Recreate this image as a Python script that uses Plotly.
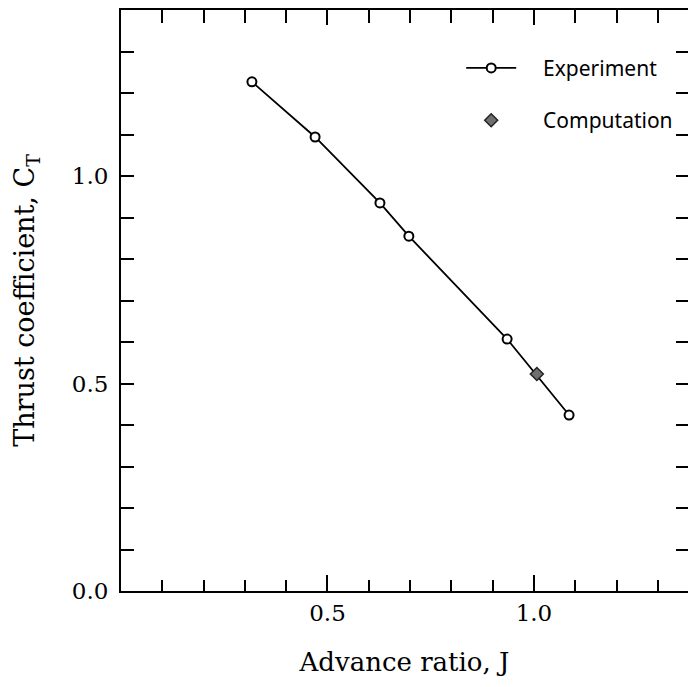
import plotly.graph_objects as go

# Data
exp_J = [0.317, 0.470, 0.627, 0.697, 0.935, 1.085]
exp_CT = [1.227, 1.094, 0.935, 0.855, 0.607, 0.424]
comp_J = [1.007]
comp_CT = [0.523]

x_ticks = [0.5, 1.0]
x_ticklabels = ["0.5", "1.0"]
y_ticks = [0.0, 0.5, 1.0]
y_ticklabels = ["0.0", "0.5", "1.0"]

serif = "DejaVu Serif"
sans = "Noto Sans"
pad = "\u00a0\u00a0\u00a0\u00a0"

fig = go.Figure()
fig.add_trace(go.Scatter(
    x=exp_J, y=exp_CT, mode="lines+markers", name=pad + "Experiment",
    line=dict(color="black", width=1.8),
    marker=dict(symbol="circle", size=9, color="white",
                line=dict(color="black", width=2)),
    legendgroup="a",
))
fig.add_trace(go.Scatter(
    x=comp_J, y=comp_CT, mode="markers", name=pad + "Computation",
    marker=dict(symbol="diamond", size=10, color="#707070",
                line=dict(color="#222222", width=1.5)),
    legendgroup="b",
))
# empty trace so the mirrored axes are drawn
fig.add_trace(go.Scatter(x=[], y=[], xaxis="x2", yaxis="y2",
                         showlegend=False, hoverinfo="skip"))

xr = [0, 1.373]
yr = [0, 1.4]

fig.update_layout(
    width=680, height=671,
    margin=dict(l=113, r=0, t=2, b=88, autoexpand=False),
    plot_bgcolor="white", paper_bgcolor="white",
    showlegend=True,
    legend=dict(x=0.6, y=0.935, xanchor="left", yanchor="top",
                font=dict(family=sans, size=21, color="black"),
                traceorder="grouped", tracegroupgap=22,
                itemwidth=50, bgcolor="rgba(0,0,0,0)"),
    xaxis=dict(
        range=xr, showgrid=False, zeroline=False, automargin=False,
        showline=True, linecolor="black", linewidth=2,
        ticks="inside", ticklen=16, tickwidth=2, tickcolor="black",
        tickvals=x_ticks, ticktext=x_ticklabels,
        tickfont=dict(family=serif, size=23, color="black"),
        minor=dict(dtick=0.1, tick0=0, ticks="inside", ticklen=11,
                   tickwidth=2, tickcolor="black", showgrid=False),
        title=dict(text="\u00a0" * 7 + "Advance ratio, J",
                   font=dict(family=serif, size=26, color="black"),
                   standoff=28),
    ),
    yaxis=dict(
        range=yr, showgrid=False, zeroline=False, automargin=False,
        showline=True, linecolor="black", linewidth=2,
        ticks="inside", ticklen=13, tickwidth=2, tickcolor="black",
        tickvals=y_ticks, ticktext=y_ticklabels,
        tickfont=dict(family=serif, size=23, color="black"),
        ticklabelstandoff=6,
        minor=dict(dtick=0.1, tick0=0, ticks="inside", ticklen=13,
                   tickwidth=2, tickcolor="black", showgrid=False),
        title=dict(text="Thrust coefficient, C<sub>T</sub>",
                   font=dict(family=serif, size=27, color="black"),
                   standoff=29),
    ),
    xaxis2=dict(
        overlaying="x", side="top", range=xr, showgrid=False,
        zeroline=False, showline=True, linecolor="black", linewidth=2,
        ticks="inside", ticklen=15, tickwidth=2, tickcolor="black",
        tickvals=x_ticks, showticklabels=False, automargin=False,
        minor=dict(dtick=0.1, tick0=0, ticks="inside", ticklen=13,
                   tickwidth=2, tickcolor="black", showgrid=False),
    ),
    yaxis2=dict(
        overlaying="y", side="right", range=yr, showgrid=False,
        zeroline=False, showline=False, automargin=False,
        ticks="inside", ticklen=12, tickwidth=2, tickcolor="black",
        tickvals=y_ticks, showticklabels=False,
        minor=dict(dtick=0.1, tick0=0, ticks="inside", ticklen=12,
                   tickwidth=2, tickcolor="black", showgrid=False),
    ),
)

fig.write_html("out.html")
